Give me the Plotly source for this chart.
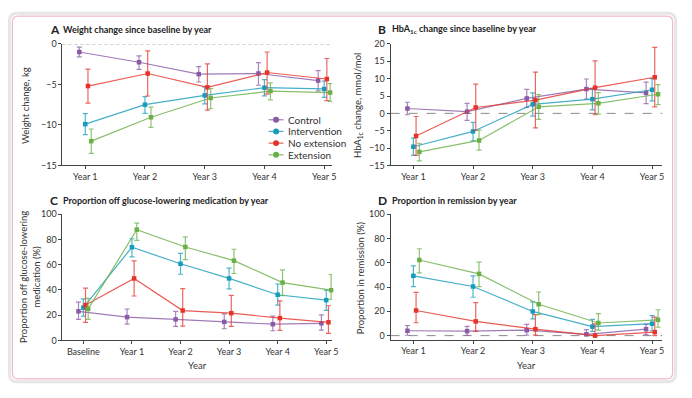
import plotly.graph_objects as go

W, H = 692, 398
FONT = "Lato, Roboto, sans-serif"

# ---------------- data ----------------
years = ["Year 1", "Year 2", "Year 3", "Year 4", "Year 5"]
years_c = ["Baseline", "Year 1", "Year 2", "Year 3", "Year 4", "Year 5"]
groups = ["Control", "Intervention", "No extension", "Extension"]

# Panel A: weight change since baseline (kg) - mean, lower CI, upper CI
wt_control = [-1.0, -2.26, -3.73, -3.65, -4.52]
wt_control_lo = [-1.6, -3.13, -4.7, -5.1, -5.8]
wt_control_hi = [-0.4, -1.47, -2.8, -2.3, -3.3]
wt_interv = [-9.9, -7.5, -6.35, -5.4, -5.56]
wt_interv_lo = [-11.2, -8.57, -7.4, -6.4, -6.6]
wt_interv_hi = [-8.6, -6.5, -5.3, -4.4, -4.6]
wt_noext = [-5.2, -3.65, -5.36, -3.53, -4.33]
wt_noext_lo = [-7.3, -6.43, -8.17, -6.2, -7.0]
wt_noext_hi = [-3.1, -0.87, -2.46, -1.0, -1.8]
wt_ext = [-12.0, -9.05, -6.67, -5.83, -6.0]
wt_ext_lo = [-13.5, -10.3, -8.0, -6.9, -7.1]
wt_ext_hi = [-10.5, -7.8, -5.5, -4.8, -4.9]

# Panel B: HbA1c change since baseline (mmol/mol)
hb_control = [1.4, 0.5, 4.3, 7.0, 5.9]
hb_control_lo = [-0.4, -2.0, 1.7, 4.1, 2.8]
hb_control_hi = [3.2, 2.9, 6.9, 9.9, 9.0]
hb_interv = [-9.6, -5.2, 2.6, 4.1, 6.8]
hb_interv_lo = [-12.1, -7.9, -0.8, 1.0, 3.6]
hb_interv_hi = [-7.1, -2.6, 5.9, 7.2, 10.0]
hb_noext = [-6.5, 1.7, 3.8, 7.4, 10.4]
hb_noext_lo = [-12.1, -4.9, -4.2, -0.4, 1.9]
hb_noext_hi = [-0.9, 8.4, 11.9, 15.1, 19.0]
hb_ext = [-11.1, -7.8, 1.9, 2.9, 5.5]
hb_ext_lo = [-13.7, -10.6, -1.7, -0.2, 2.5]
hb_ext_hi = [-8.6, -4.8, 5.4, 6.0, 8.3]

# Panel C: proportion off glucose-lowering medication (%)
med_control = [23.1, 18.5, 16.7, 14.7, 12.9, 13.6]
med_control_lo = [16.7, 12.9, 11.1, 9.3, 7.7, 8.2]
med_control_hi = [30.3, 24.9, 23.1, 21.1, 19.3, 20.3]
med_interv = [26.0, 73.8, 60.7, 49.1, 36.2, 31.9]
med_interv_lo = [19.3, 66.1, 52.4, 40.9, 28.0, 23.9]
med_interv_hi = [32.9, 80.5, 68.9, 57.3, 44.7, 39.8]
med_noext = [28.0, 49.1, 23.7, 21.6, 17.7, 14.4]
med_noext_lo = [14.4, 35.2, 11.3, 11.1, 8.0, 5.7]
med_noext_hi = [41.4, 63.0, 41.1, 35.7, 31.4, 27.5]
med_ext = [25.0, 87.7, 74.0, 63.2, 45.8, 39.8]
med_ext_lo = [16.7, 79.2, 64.0, 53.0, 35.5, 32.6]
med_ext_hi = [33.4, 92.8, 82.0, 72.2, 55.8, 52.2]

# Panel D: proportion in remission (%)
rem_control = [4.0, 3.7, 4.5, 1.1, 5.3]
rem_control_lo = [0.3, 0.3, 0.3, 0.0, 0.8]
rem_control_hi = [8.2, 7.7, 9.3, 5.0, 9.3]
rem_interv = [49.2, 40.4, 19.9, 7.4, 9.8]
rem_interv_lo = [40.4, 31.6, 13.8, 3.5, 4.0]
rem_interv_hi = [57.4, 49.2, 27.7, 13.3, 16.5]
rem_noext = [20.7, 11.7, 5.3, 0.0, 2.9]
rem_noext_lo = [10.6, 3.5, 0.5, 0.0, 0.0]
rem_noext_hi = [35.6, 27.1, 17.3, 9.6, 15.2]
rem_ext = [62.2, 50.8, 25.8, 10.4, 13.0]
rem_ext_lo = [51.6, 40.4, 17.3, 4.5, 6.9]
rem_ext_hi = [71.5, 60.4, 35.9, 18.1, 21.3]

# ---------------- styling ----------------
colors = {
    "Control": (138, 90, 166),
    "Intervention": (22, 155, 187),
    "No extension": (229, 51, 42),
    "Extension": (106, 175, 69),
}
dodge = {"Control": -0.1, "Intervention": 0.0, "No extension": 0.045, "Extension": 0.1}


def rgba(c, a):
    return "rgba(%d,%d,%d,%.2f)" % (c[0], c[1], c[2], a)


def px(x):
    return x / W


def py(y):
    return 1 - y / H


fig = go.Figure()

panels = [
    ("x", "y", years, 1, [
        (wt_control, wt_control_lo, wt_control_hi),
        (wt_interv, wt_interv_lo, wt_interv_hi),
        (wt_noext, wt_noext_lo, wt_noext_hi),
        (wt_ext, wt_ext_lo, wt_ext_hi)]),
    ("x2", "y2", years, 1, [
        (hb_control, hb_control_lo, hb_control_hi),
        (hb_interv, hb_interv_lo, hb_interv_hi),
        (hb_noext, hb_noext_lo, hb_noext_hi),
        (hb_ext, hb_ext_lo, hb_ext_hi)]),
    ("x3", "y3", years_c, 0, [
        (med_control, med_control_lo, med_control_hi),
        (med_interv, med_interv_lo, med_interv_hi),
        (med_noext, med_noext_lo, med_noext_hi),
        (med_ext, med_ext_lo, med_ext_hi)]),
    ("x4", "y4", years, 1, [
        (rem_control, rem_control_lo, rem_control_hi),
        (rem_interv, rem_interv_lo, rem_interv_hi),
        (rem_noext, rem_noext_lo, rem_noext_hi),
        (rem_ext, rem_ext_lo, rem_ext_hi)]),
]

for xa, ya, cats, start, series in panels:
    for g, (mean, lo, hi) in zip(groups, series):
        c = colors[g]
        xs = [start + i + dodge[g] for i in range(len(cats))]
        fig.add_trace(go.Scatter(
            x=xs, y=mean, xaxis=xa, yaxis=ya, name=g, showlegend=False,
            mode="lines+markers",
            line=dict(color=rgba(c, 0.8), width=1.2),
            marker=dict(color=rgba(c, 1), size=4.5, symbol="square"),
            error_y=dict(type="data", symmetric=False,
                         array=[h - m for h, m in zip(hi, mean)],
                         arrayminus=[m - l for m, l in zip(mean, lo)],
                         color=rgba(c, 0.75), thickness=1.2, width=2.5),
            cliponaxis=False,
        ))

axis_common = dict(showline=True, linecolor="#444", linewidth=1, ticks="outside",
                   ticklen=3, tickcolor="#444", tickwidth=1, showgrid=False,
                   zeroline=False, tickfont=dict(family=FONT, size=9, color="#333"))

xA = [px(63), px(335)]
xB = [px(394), px(668)]
yTop = [py(164), py(39)]
yBotC = [py(344), py(214)]
yBotD = [py(343), py(214)]

fig.update_layout(
    xaxis=dict(domain=xA, range=[0.618, 5.133], tickvals=[1, 2, 3, 4, 5], ticktext=years,
               anchor="y", **axis_common),
    yaxis=dict(domain=yTop, range=[-15, 0], tickvals=[0, -5, -10, -15], anchor="x", **axis_common),
    xaxis2=dict(domain=xB, range=[0.618, 5.17], tickvals=[1, 2, 3, 4, 5], ticktext=years,
                anchor="y2", **axis_common),
    yaxis2=dict(domain=yTop, range=[-15, 20], tickvals=list(range(-15, 21, 5)), anchor="x2",
                **axis_common),
    xaxis3=dict(domain=xA, range=[-0.43, 5.12], tickvals=[0, 1, 2, 3, 4, 5], ticktext=years_c,
                anchor="y3", **axis_common),
    yaxis3=dict(domain=yBotC, range=[0, 100], tickvals=[0, 20, 40, 60, 80, 100], anchor="x3",
                **axis_common),
    xaxis4=dict(domain=xB, range=[0.618, 5.17], tickvals=[1, 2, 3, 4, 5], ticktext=years,
                anchor="y4", **axis_common),
    yaxis4=dict(domain=yBotD, range=[-3.2, 100], tickvals=[0, 20, 40, 60, 80, 100], anchor="x4",
                **axis_common),
)

shapes = []


def rrect(x0, y0, x1, y1, r):
    rx, ry = r / W, r / H
    X0, X1 = px(x0), px(x1)
    Y0, Y1 = py(y0), py(y1)  # Y0 top, Y1 bottom
    return ("M %f %f L %f %f Q %f %f %f %f L %f %f Q %f %f %f %f L %f %f Q %f %f %f %f "
            "L %f %f Q %f %f %f %f Z") % (
        X0 + rx, Y0, X1 - rx, Y0, X1, Y0, X1, Y0 - ry,
        X1, Y1 + ry, X1, Y1, X1 - rx, Y1,
        X0 + rx, Y1, X0, Y1, X0, Y1 + ry,
        X0, Y0 - ry, X0, Y0, X0 + rx, Y0)


# outer shadow + pink rounded border
shapes.append(dict(type="path", xref="paper", yref="paper", path=rrect(9.5, 7.5, 681.5, 386.5, 8),
                   line=dict(color="#e6e6e6", width=3), layer="below"))
shapes.append(dict(type="path", xref="paper", yref="paper", path=rrect(12.5, 10.5, 678.5, 383.5, 6),
                   line=dict(color="#efb9c6", width=1.2), fillcolor="white", layer="below"))

# zero reference lines
for xa, ya, dash in [("x", "y", "dot"), ("x2", "y2", "dash"), ("x4", "y4", "dash")]:
    shapes.append(dict(type="line", xref=xa + " domain", yref=ya, x0=0, x1=1, y0=0, y1=0,
                       line=dict(color="#8a8a8a", width=1, dash=dash), layer="below"))

# legend in panel A
leg_y = [117, 129, 141, 153]
annotations = []
for g, yy in zip(groups, leg_y):
    c = colors[g]
    shapes.append(dict(type="line", xref="paper", yref="paper", x0=px(271), x1=px(286),
                       y0=py(yy), y1=py(yy), line=dict(color=rgba(c, 0.8), width=1.2)))
    shapes.append(dict(type="circle", xref="paper", yref="paper", x0=px(275.5), x1=px(281.5),
                       y0=py(yy + 3), y1=py(yy - 3), fillcolor=rgba(c, 1), line=dict(width=0)))
    annotations.append(dict(text=g, xref="paper", yref="paper", x=px(288), y=py(yy),
                            xanchor="left", yanchor="middle", showarrow=False,
                            font=dict(family=FONT, size=10, color="#333")))

# panel titles
titles = [
    (48, 24, "A", "Weight change since baseline by year"),
    (379, 24, "B", "HbA<sub>1c</sub> change since baseline by year"),
    (48, 200, "C", "Proportion off glucose-lowering medication by year"),
    (379, 200, "D", "Proportion in remission by year"),
]
for x0, y0, letter, text in titles:
    annotations.append(dict(text="<b>%s</b>" % letter, xref="paper", yref="paper", x=px(x0),
                            y=py(y0), xanchor="left", yanchor="middle", showarrow=False,
                            font=dict(family=FONT, size=12, color="#222")))
    annotations.append(dict(text="<b>%s</b>" % text, xref="paper", yref="paper", x=px(x0 + 14),
                            y=py(y0), xanchor="left", yanchor="middle", showarrow=False,
                            font=dict(family=FONT, size=9, color="#222")))

# axis titles
ytitles = [
    (25, 102, "Weight change, kg"),
    (361, 102, "HbA<sub>1c</sub> change, mmol/mol"),
    (30, 279, "Proportion off glucose-lowering<br>medication (%)"),
    (363, 279, "Proportion in remission (%)"),
]
for x0, y0, text in ytitles:
    annotations.append(dict(text=text, xref="paper", yref="paper", x=px(x0), y=py(y0),
                            xanchor="center", yanchor="middle", textangle=-90, showarrow=False,
                            font=dict(family=FONT, size=9.5, color="#333")))
for x0 in (199, 531):
    annotations.append(dict(text="Year", xref="paper", yref="paper", x=px(x0), y=py(370),
                            xanchor="center", yanchor="middle", showarrow=False,
                            font=dict(family=FONT, size=9.5, color="#333")))

fig.update_layout(
    width=W, height=H, margin=dict(l=0, r=0, t=0, b=0, pad=0),
    paper_bgcolor="white", plot_bgcolor="rgba(0,0,0,0)",
    showlegend=False, shapes=shapes, annotations=annotations,
    font=dict(family=FONT, size=10, color="#333"),
)

fig.write_html("out.html", config={"displayModeBar": False},
               post_script="document.body.style.margin='0';document.body.style.overflow='hidden';")
